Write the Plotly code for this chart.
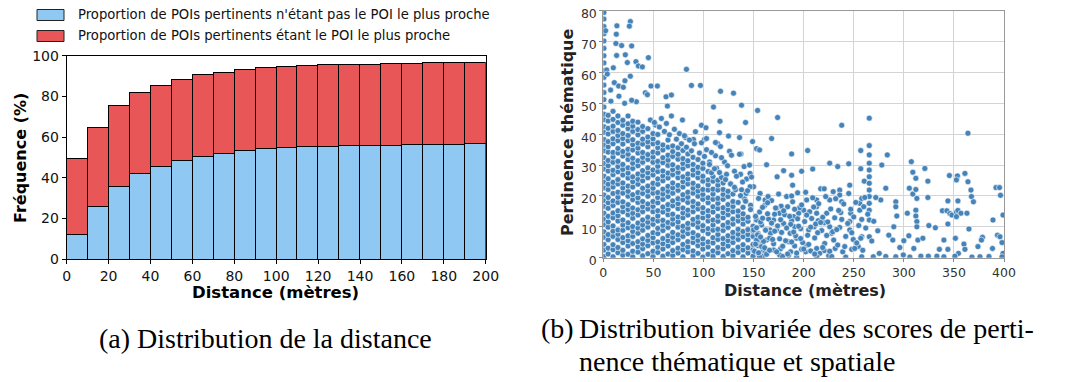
import plotly.graph_objects as go

W, H = 1071, 382          # browser window
OFF = 8                   # default page margin around the figure
FW, FH = W - OFF, H - OFF  # figure size that fits the window

# ---------------- Data: left chart ----------------
bin_centers = [5, 15, 25, 35, 45, 55, 65, 75, 85, 95, 105, 115, 125, 135, 145, 155, 165, 175, 185, 195]
prop_not_nearest = [11.9, 25.6, 35.9, 42.0, 45.6, 48.4, 50.6, 52.0, 53.4, 54.3, 54.8, 55.1, 55.5, 55.6, 55.8, 56.0, 56.1, 56.3, 56.5, 56.7]
prop_nearest = [37.5, 38.9, 39.7, 39.8, 39.8, 40.0, 39.9, 39.8, 39.9, 40.0, 40.0, 40.0, 39.9, 40.0, 39.9, 39.9, 40.0, 40.1, 40.1, 40.0]
legend_labels = ["Proportion de POIs pertinents n'étant pas le POI le plus proche",
                 "Proportion de POIs pertinents étant le POI le plus proche"]

# ---------------- Data: right chart ----------------
dense_col_x = [0.6, 4.8, 9.7, 14.6, 19.5, 24.7, 29.4, 34.6, 39.3, 44.5, 49.6, 54.4, 59.5, 64.6, 69.3,
               74.6, 79.5, 84.4, 89.6, 94.5, 99.4, 104.6, 109.5, 114.4, 119.6, 124.5, 129.4, 134.6,
               139.5, 144.4, 149.5, 154.5, 159.4]
dense_col_y = [
    [0.4, 2.5, 4.3, 6.6, 8.4, 10.7, 12.5, 14.4, 16.6, 18.5, 20.3, 22.6, 24.5, 26.4, 28.7, 30.5, 32.4, 34.6, 36.5, 38.3, 40.6, 42.4, 44.7, 46.5, 48.8, 51.2, 53.5, 55.9, 58.4, 60.6, 63.1, 65.4, 67.8, 70.2, 72.5, 74.9, 77.3, 79.4],
    [1.2, 3.1, 5.8, 7.5, 9.9, 11.6, 13.4, 16.0, 17.8, 19.5, 22.1, 23.8, 25.6, 28.1, 29.8, 31.5, 34.2, 35.9, 37.6, 40.1, 41.9, 44.3, 46.1],
    [0.3, 2.6, 4.2, 6.9, 8.6, 10.3, 12.9, 14.5, 16.9, 18.4, 20.8, 22.9, 24.4, 26.9, 28.3, 30.9, 32.6, 34.1, 36.9, 38.5, 40.9, 42.6, 44.8, 47.4],
    [1.6, 3.3, 5.9, 7.6, 9.0, 11.9, 13.6, 15.2, 17.9, 19.6, 21.2, 23.9, 25.3, 27.8, 29.5, 31.2, 33.9, 35.4, 37.9, 39.6, 41.2, 43.8, 45.9],
    [0.8, 2.4, 4.9, 6.5, 8.9, 10.6, 12.2, 14.9, 16.5, 18.1, 20.9, 22.6, 24.2, 26.8, 28.6, 30.2, 32.9, 34.4, 36.8, 38.6, 40.2, 42.9, 44.5],
    [1.1, 3.8, 5.5, 7.1, 9.7, 11.3, 13.9, 15.6, 17.2, 19.9, 21.5, 23.2, 25.8, 27.4, 29.1, 31.8, 33.5, 35.1, 37.9, 39.6, 41.8, 43.4, 45.9],
    [0.3, 2.1, 4.6, 6.9, 8.5, 10.1, 12.8, 14.4, 16.1, 18.8, 20.4, 22.9, 24.6, 26.2, 28.9, 30.6, 32.2, 34.9, 36.6, 38.2, 40.9, 42.6, 44.2],
    [1.8, 3.5, 5.2, 7.9, 9.6, 11.2, 13.8, 15.5, 17.9, 19.4, 21.1, 23.8, 25.4, 27.1, 29.8, 31.4, 33.9, 35.5, 37.1, 39.8, 41.5, 43.9],
    [0.6, 2.9, 4.4, 6.1, 8.9, 10.6, 12.2, 14.9, 16.5, 18.2, 20.8, 22.5, 24.9, 26.6, 28.2, 30.9, 32.5, 34.1, 36.8, 38.4, 40.9, 42.5],
    [1.3, 3.9, 5.6, 7.2, 9.9, 11.5, 13.1, 15.8, 17.4, 19.9, 21.6, 23.2, 25.9, 27.5, 29.1, 31.8, 33.4, 35.9, 37.5, 39.1, 41.8],
    [0.4, 2.1, 4.8, 6.5, 8.1, 10.8, 12.4, 14.9, 16.6, 18.2, 20.9, 22.5, 24.1, 26.8, 28.4, 30.9, 32.6, 34.2, 36.9, 38.5, 40.2],
    [1.7, 3.4, 5.1, 7.8, 9.5, 11.9, 13.5, 15.2, 17.8, 19.5, 21.1, 23.8, 25.5, 27.9, 29.6, 31.2, 33.9, 35.6, 37.2, 39.9],
    [0.5, 2.8, 4.5, 6.2, 8.8, 10.5, 12.1, 14.8, 16.4, 18.9, 20.6, 22.2, 24.9, 26.5, 28.1, 30.8, 32.4, 34.9, 36.5],
    [1.2, 3.8, 5.5, 7.1, 9.8, 11.4, 13.9, 15.6, 17.2, 19.8, 21.5, 23.1, 25.8, 27.4, 29.9, 31.6, 33.2, 35.8, 38.1],
    [0.7, 2.3, 4.9, 6.6, 8.2, 10.9, 12.5, 14.1, 16.8, 18.4, 20.9, 22.6, 24.2, 26.9, 28.5, 30.1, 32.8, 34.4, 36.2],
    [1.5, 3.1, 5.8, 7.4, 9.9, 11.6, 13.2, 15.9, 17.5, 19.1, 21.8, 23.4, 25.9, 27.6, 29.2, 31.9, 33.5, 35.6],
    [0.3, 2.6, 4.3, 6.9, 8.6, 10.2, 12.9, 14.5, 16.1, 18.8, 20.4, 22.9, 24.6, 26.2, 28.9, 30.5, 32.1, 34.7],
    [1.9, 3.5, 5.2, 7.8, 9.5, 11.1, 13.8, 15.4, 17.9, 19.6, 21.2, 23.9, 25.5, 27.1, 29.8, 31.4, 33.6],
    [0.6, 2.2, 4.9, 6.5, 8.1, 10.8, 12.4, 14.9, 16.6, 18.2, 20.9, 22.5, 24.1, 26.8, 28.4, 30.2, 32.5],
    [1.4, 3.9, 5.6, 7.2, 9.9, 11.5, 13.1, 15.8, 17.4, 19.9, 21.6, 23.2, 25.9, 27.5, 29.3, 31.8],
    [0.2, 2.8, 4.5, 6.1, 8.8, 10.4, 12.9, 14.6, 16.2, 18.9, 20.5, 22.1, 24.8, 26.4, 28.9, 30.6],
    [1.1, 3.5, 5.1, 7.8, 9.4, 11.9, 13.5, 15.2, 17.8, 19.4, 21.9, 23.6, 25.2, 27.9],
    [0.5, 2.2, 4.8, 6.5, 8.9, 10.6, 12.2, 14.8, 16.5, 18.9, 20.6, 22.2, 24.8, 26.3],
    [1.6, 3.3, 5.9, 7.5, 9.2, 11.8, 13.4, 15.9, 17.6, 19.2, 21.9, 23.5, 25.1],
    [0.4, 2.9, 4.5, 6.2, 8.8, 10.5, 12.9, 14.6, 16.2, 18.9, 20.5, 22.1, 24.2],
    [1.3, 3.8, 5.5, 7.1, 9.8, 11.4, 13.9, 15.5, 17.2, 19.8, 21.5],
    [0.6, 2.3, 4.9, 6.6, 8.2, 10.9, 12.5, 14.9, 16.6, 18.2, 20.6],
    [1.7, 3.4, 5.9, 7.6, 9.2, 11.9, 13.5, 15.1, 17.9],
    [0.3, 2.5, 4.2, 6.8, 8.5, 10.9, 12.6, 14.2, 16.3],
    [1.5, 3.2, 5.8, 7.5, 9.1, 11.8, 13.1],
    [0.5, 2.6, 4.3, 6.9, 8.6, 10.2],
    [1.4, 3.9, 5.6, 7.8],
    [0.6, 2.4, 4.8],
]

sparse_x = [2.3, 12.6, 13.6, 13, 27, 26, 28.3, 18.3, 13.3, 22, 45, 24, 32.6, 35, 39, 10, 3.3, 4, 27, 83,
            11, 7.3, 15.3, 20, 21.6, 47.6, 54, 88, 97, 117, 130, 42, 44, 62.6, 68, 64, 68, 79, 138, 154,
            110, 174, 265.5, 238, 364, 142, 116.5, 98, 102.5, 52, 7.6, 15.6, 33, 21.3, 28.3, 125, 136, 168, 82, 90,
            101, 114, 149, 137.4, 153, 156, 204, 188, 198, 257, 265.5, 265.5, 283.5, 307.5, 321, 324, 309, 312, 226, 245,
            234, 163, 180, 173.5, 188, 209, 257, 260.5, 265.5, 265.5, 265.5, 265.5, 265.5, 265.5, 265.5, 265.5, 265.5, 265.5,
            278, 277, 282, 292, 292, 293, 290, 285, 289, 296, 300, 305, 305.5, 309, 312, 313, 312, 312, 313, 313,
            303.5, 314, 310, 319, 324, 325, 331.5, 338.5, 343, 344, 346, 348, 344, 354, 352.5, 354, 357, 352.5, 345.5, 353.5,
            352.5, 361, 364, 367, 367.5, 369.5, 363, 365, 351.5, 360, 361, 354.5, 340, 335.5, 344, 374, 378.5, 377.5, 388.5, 389,
            392, 395.5, 396.5, 393.5, 396, 398, 399, 399, 299.5, 317, 324.5, 333, 351, 376, 269.5, 275.5, 254.5, 248, 249.5, 246,
            246, 247, 247, 238, 236, 236, 238, 246, 256, 256, 258, 261, 260, 258, 258, 257, 251, 229.5, 226, 223,
            220.5, 226, 228, 230, 231.5, 220.5, 213, 203, 198, 202, 213, 213, 213, 208, 214.5, 210.5, 205, 217, 220.5, 203,
            200, 195, 190, 188, 191, 186.5, 193, 185, 179, 187, 176, 170, 183, 188, 194, 189, 177.5, 173, 176, 170,
            166.5, 173, 180, 163, 158, 162, 153, 150, 153, 161.5, 156.5, 164.5, 150, 142.5, 146.5, 140.5, 146.5,
            103, 106, 108, 112, 113, 116, 117, 118, 121, 123, 126, 127, 131, 132, 136, 137, 138, 141, 143, 147, 146,
            151, 154, 156, 158, 160, 161, 163, 165, 167, 168, 170, 171, 174, 175, 177, 178, 181, 182, 184, 185,
            187, 189, 191, 192, 194, 196, 197, 199, 201, 202, 204, 206, 207, 209, 211, 212, 215, 216, 218, 219,
            221, 222, 224, 225, 227, 229, 231, 232, 234, 236, 237, 239, 240, 242, 244, 245, 248, 250, 252, 253,
            255, 259, 262, 264, 268, 270, 272, 274,
            156, 179, 193, 213, 228, 242, 258, 282, 292, 306, 340, 368, 385, 398,
            47, 51, 56, 58, 61, 63, 66, 71, 73, 76, 78, 81, 83, 86, 88, 91, 92, 96, 98, 101,
            103, 106, 108, 111, 112, 116, 118, 122, 124, 127, 128, 131, 133, 137, 139, 142, 144, 147, 148, 152,
            155, 157, 159, 162, 164, 166,
            152, 153, 155, 157, 159, 161, 162, 164, 166, 168, 169, 171, 172, 173, 176, 177, 179, 180, 183, 184,
            186, 188, 190, 191, 193, 195, 197, 198, 200, 203, 205, 207, 210, 211, 214, 217, 219, 223, 226, 233,
            235, 241]
sparse_y = [73.5, 69.4, 75.1, 72.4, 76.5, 75, 68.6, 68.7, 65.5, 65.7, 64.8, 63.2, 63.5, 62.1, 61.8, 61.5, 60.8, 59.5, 58.8, 61,
            56.7, 54.3, 55.6, 55.2, 57.3, 55.6, 55.6, 55.8, 55.8, 53.9, 53.3, 53.4, 52.8, 52.1, 52.7, 49.1, 45.9, 44.6, 49.4, 47.7,
            48.8, 45.4, 45.2, 42.9, 40.3, 43.8, 44.2, 42.9, 42.1, 43, 50.7, 52.3, 50.5, 50, 51, 39.4, 38.9, 38.6, 38.9, 38.3,
            38.3, 37, 37.6, 33.6, 35.3, 34.9, 34.7, 33.6, 28, 34.7, 36.3, 33.3, 33.3, 31.1, 28.9, 24.8, 27.7, 25.7, 30.6, 30.4,
            29.5, 30.1, 28.2, 26.2, 26.7, 28.7, 28.8, 24.8, 30.6, 28.4, 26.2, 24.1, 21.9, 19.8, 17.6, 15.4, 12.2, 6.8,
            30, 18.7, 22.5, 18.1, 16.5, 13.5, 10, 7.3, 5.7, 3.3, 5.5, 7.1, 22.5, 20.6, 22.1, 19.2, 15.4, 13.5, 11.7, 10,
            14.4, 5.7, 3, 6.3, 19.5, 10.4, 9.7, 15.2, 15.2, 10.9, 14.3, 13.8, 18.4, 18.4, 14.8, 15.3, 14.4, 13.3, 26.6, 26.5,
            25.2, 27.3, 24.6, 21.9, 19.8, 18.1, 14.4, 9.3, 6.3, 4.4, 2.7, 1.4, 5.7, 2.7, 2.7, 3.6, 6.6, 5.7, 3, 12.2,
            22.7, 22.7, 20.2, 7.3, 6.8, 4.9, 13.8, 1.4, 0.9, 0.5, 0.5, 0.5, 0.5, 0.3, 0.3, 1.4, 3.6, 2.7, 5.9, 9,
            11.7, 14.4, 15.7, 12.4, 21.9, 20.3, 18.1, 23.5, 17.6, 15.4, 19.2, 19.5, 16.5, 12.4, 6.8, 6.3, 3, 21.4, 18.7, 14.4,
            11.3, 10, 7.9, 5.7, 3, 2.3, 3, 4.1, 2.7, 1.9, 16.5, 18.7, 14.4, 12.7, 12, 10, 9, 22.3, 22.3, 18.7,
            15.4, 14.4, 13.3, 12, 10, 7.9, 6.3, 5.2, 3.6, 1.9, 0.9, 2.5, 19.8, 20, 21, 23.5, 16.7, 16, 14.4, 12.2,
            9, 9, 11.1, 5.7, 3.6, 1.9, 12.2, 9, 5.7, 18.7, 20.8, 19.8, 23, 20.8, 27.3, 29.5, 23,
            35, 31, 27.5, 33, 29, 40.5, 36, 26, 31, 27, 34.5, 24, 28, 22, 33.5, 27, 22, 19, 25.5, 17, 30,
            2.1, 7.4, 14.8, 10.6, 5.3, 16.9, 1.1, 12.5, 7.9, 18.5, 4.5, 14.1, 10.3, 20.6, 2.9, 8.2, 13.9, 5.5, 16.5, 0.8,
            10.8, 18.1, 3.8, 7.1, 12.6, 16.2, 9.4, 4.9, 11.7, 21.2, 7.3, 14.9, 2.2, 19.4, 6.4, 10.9, 17.5, 1.4, 8.8, 13.1,
            4.6, 19.8, 11.6, 0.6, 15.8, 8.4, 12.9, 19.1, 4.1, 9.8, 14.6, 1.9, 17.4, 6.9, 11.1, 20.8, 8.1, 13.2, 17.9, 4.8,
            10.4, 2.4, 9.6, 14.1, 5.4, 11.8, 19.5, 8.7,
            0.3, 0.4, 0.2, 0.3, 0.4, 0.2, 0.3, 0.4, 0.3, 0.2, 0.3, 0.2, 0.4, 0.3,
            44.6, 43.8, 42.3, 45.1, 40.9, 43.5, 39.8, 41.6, 38.4, 40.2, 36.9, 39.5, 35.8, 38.1, 34.6, 36.9, 40.8, 33.9, 37.2, 32.8,
            38.6, 30.2, 34.1, 28.8, 37.3, 27.6, 32.4, 25.3, 29.8, 23.9, 33.2, 22.8, 26.4, 20.1, 24.5, 18.3, 21.7, 15.6, 26.1, 13.4,
            19.2, 11.6, 16.3, 9.1, 14.2, 6.3,
            4.4, 9.7, 1.6, 6.7, 12.8, 3.2, 8.9, 17.8, 2.4, 11.2, 5.9, 8.6, 16.1, 1.9, 6.1, 12.3, 3.7, 15.2, 9.6, 1.2,
            13.4, 5.1, 8.3, 15.7, 1.5, 10.2, 6.2, 17.1, 2.8, 13.8, 4.3, 9.9, 16.4, 1.2, 8.1, 11.4, 3.3, 7.2, 2.1, 9.1,
            15.3, 3.6]

x_ticks_left = [0, 20, 40, 60, 80, 100, 120, 140, 160, 180, 200]
y_ticks_left = [0, 20, 40, 60, 80, 100]
x_ticks_right = [0, 50, 100, 150, 200, 250, 300, 350, 400]
y_ticks_right = [0, 10, 20, 30, 40, 50, 60, 70, 80]

# ---------------- Styles ----------------
BLUE = "#90C8F4"
RED = "#E95657"
PT = "#4583B8"
FONT = "DejaVu Sans"
SERIF = "Liberation Serif"


def px(x):
    """window pixel x -> figure paper fraction"""
    return (x - OFF) / FW


def py(y):
    """window pixel y (from top) -> figure paper fraction"""
    return 1 - (y - OFF) / FH


fig = go.Figure()

fig.add_trace(go.Bar(x=bin_centers, y=prop_not_nearest, width=10, marker=dict(color=BLUE, line=dict(color="black", width=1)),
                     name=legend_labels[0], xaxis="x", yaxis="y", showlegend=False))
fig.add_trace(go.Bar(x=bin_centers, y=prop_nearest, width=10, marker=dict(color=RED, line=dict(color="black", width=1)),
                     name=legend_labels[1], xaxis="x", yaxis="y", showlegend=False))

dxs, dys = [], []
for cx, ys in zip(dense_col_x, dense_col_y):
    for yv in ys:
        dxs.append(cx)
        dys.append(yv)

fig.add_trace(go.Scatter(x=dxs + sparse_x, y=dys + sparse_y, mode="markers", xaxis="x2", yaxis="y2", showlegend=False,
                         marker=dict(size=6, color=PT, line=dict(color="white", width=0.6)), cliponaxis=True))

tickfont = dict(family=FONT, size=14, color="#111")
tickfont2 = dict(family=FONT, size=12.5, color="#333")

fig.update_layout(
    width=FW, height=FH, margin=dict(l=0, r=0, t=0, b=0, autoexpand=False),
    paper_bgcolor="white", plot_bgcolor="white", barmode="stack", bargap=0,
    xaxis=dict(domain=[px(66.7), px(485.7)], range=[0, 200], tickvals=x_ticks_left, ticks="outside", ticklen=4,
               tickcolor="black", showline=True, linecolor="black", linewidth=1, mirror=True, showgrid=False,
               zeroline=False, tickfont=tickfont, anchor="y", automargin=False),
    yaxis=dict(domain=[py(259.3), py(55.7)], range=[0, 100], tickvals=y_ticks_left, ticks="outside", ticklen=4,
               tickcolor="black", showline=True, linecolor="black", linewidth=1, mirror=True, showgrid=False,
               zeroline=False, tickfont=tickfont, anchor="x", automargin=False),
    xaxis2=dict(domain=[px(603.3), px(1004)], range=[0, 400], tickvals=x_ticks_right, ticks="outside", ticklen=3,
                tickcolor="#888", showline=True, linecolor="#999", linewidth=1, mirror=True, showgrid=True,
                gridcolor="#d4d4d4", gridwidth=1, zeroline=False, tickfont=tickfont2, anchor="y2", automargin=False),
    yaxis2=dict(domain=[py(257.7), py(10.7)], range=[0, 80], tickvals=y_ticks_right, ticks="outside", ticklen=3,
                tickcolor="#888", showline=True, linecolor="#999", linewidth=1, mirror=True, showgrid=True,
                gridcolor="#d4d4d4", gridwidth=1, zeroline=False, tickfont=tickfont2, anchor="x2", automargin=False,
                ticklabeloverflow="allow", ticklabelshift=3),
)

# legend drawn manually
legend_colors = [BLUE, RED]
for i, (lab, col) in enumerate(zip(legend_labels, legend_colors)):
    y0 = 9.5 + i * 21
    fig.add_shape(type="rect", xref="paper", yref="paper", x0=px(37), x1=px(64), y0=py(y0 + 11), y1=py(y0),
                  fillcolor=col, line=dict(color="#222", width=1))
    fig.add_annotation(text=lab, xref="paper", yref="paper", x=px(76), y=py(y0 + 5.5), xanchor="left", yanchor="middle",
                       showarrow=False, font=dict(family=FONT, size=13.2, color="#111"))

fig.add_annotation(text="<b>Fréquence (%)</b>", xref="paper", yref="paper", x=px(20), y=py(158), textangle=-90,
                   showarrow=False, font=dict(family=FONT, size=16, color="black"), xanchor="center", yanchor="middle")
fig.add_annotation(text="<b>Distance (mètres)</b>", xref="paper", yref="paper", x=px(275), y=py(292),
                   showarrow=False, font=dict(family=FONT, size=16.5, color="black"), xanchor="center", yanchor="middle")
fig.add_annotation(text="<b>Distance (mètres)</b>", xref="paper", yref="paper", x=px(805), y=py(290),
                   showarrow=False, font=dict(family=FONT, size=16, color="#222"), xanchor="center", yanchor="middle")
fig.add_annotation(text="<b>Pertinence thématique</b>", xref="paper", yref="paper", x=px(567), y=py(133), textangle=-90,
                   showarrow=False, font=dict(family=FONT, size=16, color="#222"), xanchor="center", yanchor="middle")

cap = dict(family=SERIF, size=28, color="black")
fig.add_annotation(text="(a) Distribution de la distance", xref="paper", yref="paper", x=px(265), y=py(338),
                   showarrow=False, font=cap, xanchor="center", yanchor="middle")
fig.add_annotation(text="(b)", xref="paper", yref="paper", x=px(539), y=py(328),
                   showarrow=False, font=cap, xanchor="left", yanchor="middle")
fig.add_annotation(text="Distribution bivariée des scores de perti-", xref="paper", yref="paper", x=px(577), y=py(328),
                   showarrow=False, font=cap, xanchor="left", yanchor="middle")
fig.add_annotation(text="nence thématique et spatiale", xref="paper", yref="paper", x=px(577), y=py(361),
                   showarrow=False, font=cap, xanchor="left", yanchor="middle")

fig.write_html("out.html")
